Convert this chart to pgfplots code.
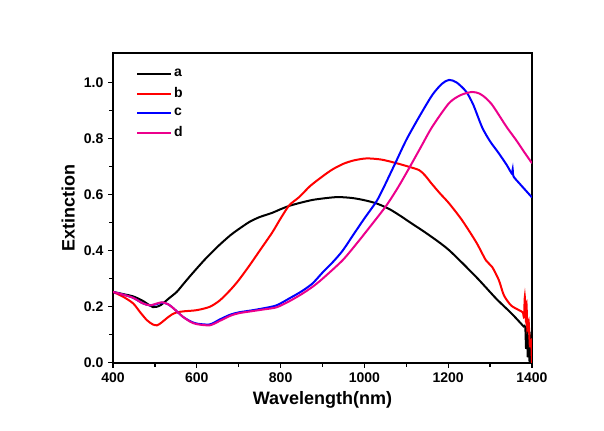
\documentclass[border=0pt]{standalone}
\usepackage{fontspec}
\setmainfont{Liberation Sans}
\usepackage{pgfplots}
\pgfplotsset{compat=1.18}

\begin{document}
\begin{tikzpicture}
\begin{axis}[
    scale only axis,
    width=314pt, height=232.5pt,
    xmin=400, xmax=1400,
    ymin=0, ymax=1.106,
    xtick={400,600,...,1400},
    ytick={0,0.2,...,1.0},
    minor tick num=1,
    xtick pos=left, ytick pos=left,
    tick align=outside,
    major tick length=3.75pt,
    minor tick length=3pt,
    tick style={line width=0.9pt, black},
    axis line style={line width=1.3pt},
    /pgf/number format/assume math mode=true,
    yticklabel style={/pgf/number format/fixed, /pgf/number format/fixed zerofill, /pgf/number format/precision=1},
    xticklabel style={/pgf/number format/1000 sep={}},
    ticklabel style={font=\bfseries\fontsize{10.5}{12}\selectfont},
    xlabel={Wavelength(nm)},
    ylabel={Extinction},
    label style={font=\bfseries\fontsize{13.5}{15}\selectfont},
    legend style={draw=none, fill=none, at={(0.045,0.965)}, anchor=north west,
        font=\bfseries\fontsize{10.5}{12}\selectfont, row sep=2.6pt},
    legend cell align=left,
    legend image code/.code={\draw[#1] (0pt,0pt) -- (25pt,0pt);},
    every axis plot/.append style={line width=1.5pt, smooth, tension=0.45},
]
% a
\addplot[black] coordinates {
(400,0.253) (425,0.245) (448,0.237) (470,0.222) (495,0.199) (510,0.203) (519,0.212)
(535,0.232) (552,0.253) (570,0.285) (590,0.320) (620,0.370) (650,0.415) (680,0.455)
(700,0.477) (726,0.503) (750,0.520) (780,0.535) (800,0.548) (821,0.560) (845,0.570)
(880,0.582) (933,0.591) (970,0.588) (1000,0.580) (1030,0.568) (1060,0.548) (1083,0.527)
(1110,0.500) (1155,0.455) (1202,0.402) (1267,0.306) (1314,0.230) (1350,0.178) (1374,0.140)
(1380,0.130) (1384,0.128) (1386,0.05) (1388,0.12) (1390,0.02) (1392,0.10) (1394,0.01)
(1396,0.08) (1398,0.0) (1400,0.0)
};
% b
\addplot[red] coordinates {
(400,0.253) (425,0.235) (448,0.212) (465,0.180) (481,0.152) (495,0.137) (505,0.134)
(515,0.143) (528,0.159) (540,0.172) (552,0.180) (570,0.184) (600,0.188) (631,0.200)
(655,0.223) (680,0.260) (700,0.295) (726,0.348) (750,0.400) (780,0.465) (800,0.515)
(821,0.5625) (845,0.592) (870,0.630) (900,0.665) (924,0.690) (950,0.710) (975,0.722)
(1005,0.729) (1040,0.725) (1074,0.713) (1107,0.699) (1131,0.687) (1145,0.668)
(1160,0.640) (1180,0.605) (1202,0.569) (1233,0.509) (1267,0.430) (1290,0.366)
(1305,0.342) (1321,0.295) (1333,0.241) (1350,0.205) (1369,0.188) (1378,0.180)
(1381,0.165) (1383,0.235) (1385,0.160) (1387,0.21) (1389,0.12) (1392,0.15) (1395,0.06)
(1398,0.08) (1400,0.0)
};
% c
\addplot[blue] coordinates {
(400,0.253) (425,0.243) (448,0.232) (470,0.213) (488,0.205) (505,0.210) (517,0.215)
(530,0.210) (540,0.200) (555,0.180) (567,0.164) (585,0.148) (600,0.140) (631,0.137)
(655,0.155) (680,0.172) (700,0.180) (730,0.187) (757,0.194) (790,0.205) (821,0.230)
(850,0.255) (876,0.283) (900,0.322) (925,0.360) (948,0.400) (975,0.460) (1000,0.515)
(1028,0.574) (1043,0.616) (1074,0.713) (1100,0.795) (1131,0.878) (1162,0.955)
(1185,0.995) (1202,1.009) (1220,1.000) (1243,0.967) (1260,0.920) (1281,0.840)
(1300,0.790) (1321,0.747) (1340,0.705) (1352,0.675) (1354,0.690) (1356,0.665)
(1370,0.640) (1385,0.615) (1400,0.590)
};
% d
\addplot[magenta] coordinates {
(400,0.253) (425,0.243) (448,0.232) (470,0.213) (488,0.205) (505,0.212) (517,0.216)
(530,0.210) (540,0.200) (555,0.180) (567,0.164) (585,0.146) (600,0.138) (631,0.134)
(655,0.150) (680,0.168) (700,0.177) (730,0.184) (757,0.190) (790,0.198) (821,0.220)
(850,0.245) (876,0.271) (900,0.300) (948,0.366) (984,0.430) (1000,0.460) (1050,0.556)
(1080,0.625) (1107,0.695) (1135,0.770) (1162,0.842) (1202,0.926) (1230,0.955)
(1257,0.966) (1275,0.960) (1290,0.944) (1305,0.920) (1321,0.884) (1340,0.840)
(1362,0.795) (1380,0.755) (1400,0.712)
};
\legend{a, b, c, d}
\end{axis}
\path ([shift={(-84.75pt,-50.5pt)}]current axis.south west) rectangle ([shift={(54pt,39.5pt)}]current axis.north east);
\end{tikzpicture}
\end{document}
